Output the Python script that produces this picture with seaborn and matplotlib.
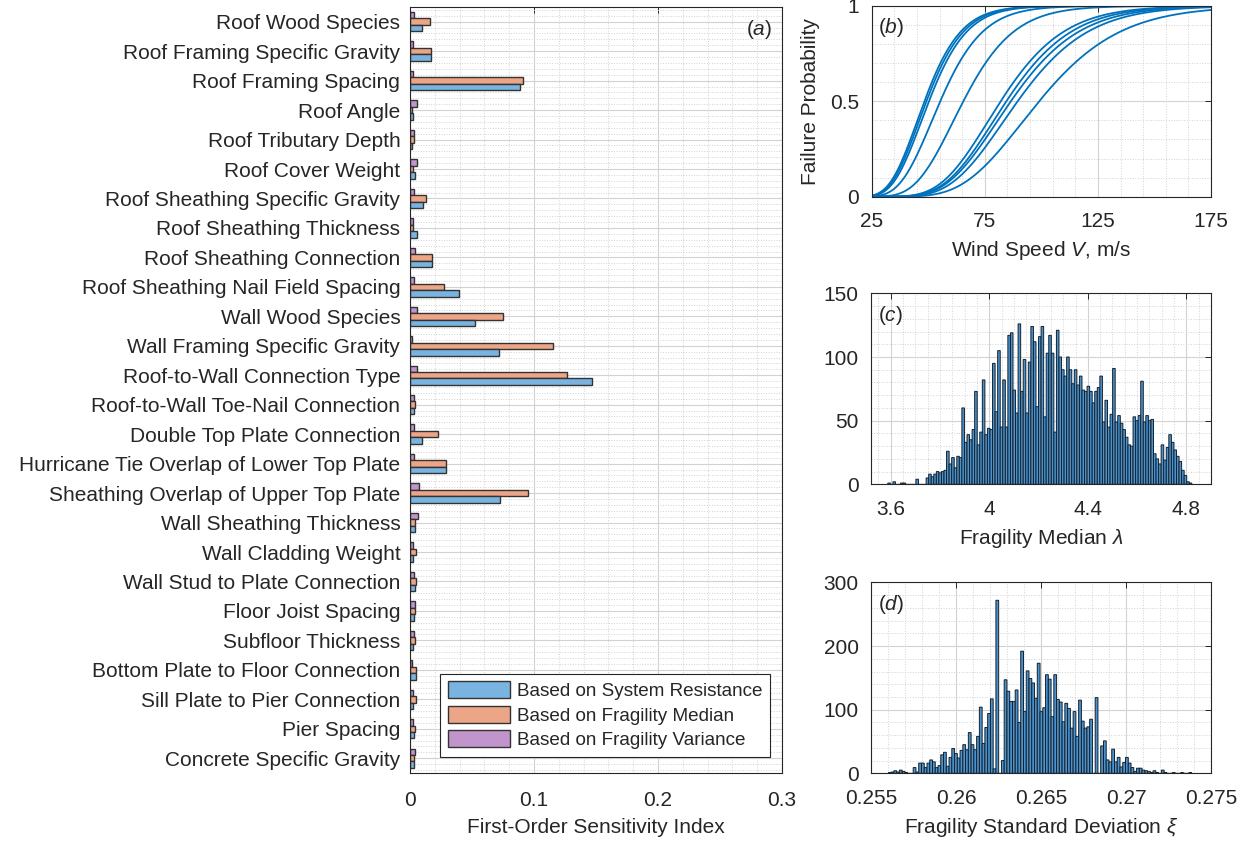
import math
import numpy as np
import pandas as pd
import matplotlib
matplotlib.use('Agg')
import matplotlib.pyplot as plt
from matplotlib.patches import Patch
from matplotlib.ticker import MultipleLocator, FixedLocator, FuncFormatter
import seaborn as sns

# ---- data ----
variables = [
    'Roof Wood Species', 'Roof Framing Specific Gravity', 'Roof Framing Spacing',
    'Roof Angle', 'Roof Tributary Depth', 'Roof Cover Weight',
    'Roof Sheathing Specific Gravity', 'Roof Sheathing Thickness',
    'Roof Sheathing Connection', 'Roof Sheathing Nail Field Spacing',
    'Wall Wood Species', 'Wall Framing Specific Gravity',
    'Roof-to-Wall Connection Type', 'Roof-to-Wall Toe-Nail Connection',
    'Double Top Plate Connection', 'Hurricane Tie Overlap of Lower Top Plate',
    'Sheathing Overlap of Upper Top Plate', 'Wall Sheathing Thickness',
    'Wall Cladding Weight', 'Wall Stud to Plate Connection', 'Floor Joist Spacing',
    'Subfloor Thickness', 'Bottom Plate to Floor Connection',
    'Sill Plate to Pier Connection', 'Pier Spacing', 'Concrete Specific Gravity',
]
si_resistance = [0.0097, 0.0172, 0.0887, 0.0022, 0.0019, 0.0040, 0.0102, 0.0056,
                 0.0180, 0.0398, 0.0524, 0.0715, 0.1465, 0.0030, 0.0094, 0.0290,
                 0.0726, 0.0043, 0.0027, 0.0040, 0.0030, 0.0027, 0.0051, 0.0024,
                 0.0030, 0.0030]
si_median = [0.0160, 0.0167, 0.0914, 0.0019, 0.0035, 0.0022, 0.0129, 0.0027,
             0.0180, 0.0274, 0.0753, 0.1153, 0.1266, 0.0043, 0.0223, 0.0293,
             0.0954, 0.0043, 0.0051, 0.0051, 0.0040, 0.0038, 0.0051, 0.0048,
             0.0040, 0.0032]
si_variance = [0.0035, 0.0027, 0.0027, 0.0059, 0.0035, 0.0054, 0.0035, 0.0022,
               0.0043, 0.0035, 0.0054, 0.0019, 0.0054, 0.0035, 0.0030, 0.0035,
               0.0070, 0.0062, 0.0027, 0.0030, 0.0040, 0.0035, 0.0016, 0.0022,
               0.0027, 0.0043]
series_names = ['Based on System Resistance', 'Based on Fragility Median',
                'Based on Fragility Variance']
series_colors = ['#78B4DF', '#EDA587', '#C194CB']

# fragility curves (lognormal median m/s, dispersion)
curve_medians = [48.3, 49.2, 50.3, 55.3, 65.5, 82.0, 84.5, 86.5, 89.5, 99.0]
curve_betas = [0.26, 0.26, 0.26, 0.265, 0.265, 0.265, 0.265, 0.27, 0.27, 0.28]

median_bin_start = 3.588
median_bin_width = 0.01037
median_counts = [1, 0, 2, 0, 0, 1, 1, 0, 0, 0, 0, 4, 0, 0, 0, 5, 8, 6, 8, 10,
                 9, 10, 11, 26, 16, 21, 13, 22, 21, 60, 33, 39, 35, 43, 73, 31,
                 41, 82, 39, 44, 43, 95, 57, 105, 45, 82, 45, 117, 119, 74, 56,
                 126, 73, 98, 56, 96, 124, 112,
                 61, 116, 124, 53, 103, 117, 103, 41, 121, 100, 90, 85, 100, 90,
                 79, 90, 78, 85, 74, 73, 77, 73, 64, 73, 76, 85, 49, 66, 45, 55,
                 91, 49, 54, 48, 43, 37, 31, 30, 53, 50, 54, 81, 49, 54, 50, 51,
                 24, 20, 16, 31, 19, 29, 39, 33, 27, 22, 18, 11, 7, 2, 1]

std_bin_start = 0.25602
std_bin_width = 0.0001622
std_counts = [1, 2, 4, 2, 5, 3, 1, 0, 0, 9, 2, 16, 16, 9, 16, 21, 18, 9, 12, 29,
              33, 11, 25, 39, 31, 24, 36, 45, 37, 64, 45, 37, 58, 104, 47, 72,
              94, 117, 7, 272,
              0, 20, 147, 129, 113, 113, 131, 80, 192, 97, 161, 149, 142, 118,
              173, 97, 103, 155, 148, 89, 155, 116, 112, 81, 110, 102, 71, 97,
              58, 115, 82, 71, 73, 85, 0, 119, 0, 43, 51, 21, 18, 38, 18, 25,
              10, 17, 25, 16, 9, 3, 8, 8, 5, 4, 3, 1, 4, 1, 0, 5, 1, 0, 0, 1,
              0, 0, 1, 0, 0, 1]

# ---- style ----
sns.set_style('white')
plt.rcParams['font.family'] = ['Liberation Sans', 'DejaVu Sans']
plt.rcParams['mathtext.fontset'] = 'custom'
plt.rcParams['mathtext.rm'] = 'Liberation Sans'
plt.rcParams['mathtext.it'] = 'Liberation Sans:italic'
plt.rcParams['mathtext.bf'] = 'Liberation Sans:bold'
FS = 15
plt.rcParams['font.size'] = FS
DARK = '#262626'
GRID = '#d2d2d2'
HIST_FACE = '#4A93CE'
fmt = FuncFormatter(lambda v, _: f'{v:g}')


def matlab_axes(ax, xpad=11, ypad=9):
    for s in ax.spines.values():
        s.set_color(DARK)
        s.set_linewidth(0.8)
        s.set_visible(True)
    ax.tick_params(which='major', direction='in', top=True, right=True,
                   length=4, width=0.7, color=DARK, labelcolor=DARK, labelsize=FS)
    ax.tick_params(axis='x', which='major', pad=xpad)
    ax.tick_params(axis='y', which='major', pad=ypad)
    ax.tick_params(which='minor', length=0)
    ax.grid(which='major', color=GRID, lw=0.8, ls='-')
    ax.grid(which='minor', color=GRID, lw=0.7, ls=':')
    ax.set_axisbelow(True)


def count_hist(ax, start, width, counts):
    edges = start + width * np.arange(len(counts) + 1)
    df = pd.DataFrame({'x': (edges[:-1] + edges[1:]) / 2, 'w': counts})
    sns.histplot(data=df, x='x', weights='w', bins=list(edges), color=HIST_FACE,
                 edgecolor='#15202b', linewidth=0.7, alpha=1, ax=ax)
    # keep thin bars contiguous instead of pixel-snapped
    for bar in ax.patches:
        bar.set_snap(False)


def panel_label(ax, letter, x, y, ha):
    ax.text(x, y, r'($' + letter + '$)', transform=ax.transAxes, ha=ha,
            va='center', fontsize=FS, color=DARK)


fig = plt.figure(figsize=(12.44, 8.41), dpi=100)

# ---- (a) sensitivity bars ----
ax_a = fig.add_axes([0.3296, 0.0809, 0.2990, 0.9108])
rows = []
for name, vals in zip(series_names, [si_resistance, si_median, si_variance]):
    for var, v in zip(variables, vals):
        rows.append({'variable': var, 'series': name, 'index': v})
df_a = pd.DataFrame(rows)
hue_order = series_names[::-1]
sns.barplot(data=df_a, y='variable', x='index', hue='series', order=variables,
            hue_order=hue_order, palette=dict(zip(series_names, series_colors)),
            orient='h', width=0.66, saturation=1, edgecolor='#333333',
            linewidth=1.0, legend=False, ax=ax_a)
ax_a.set_xlim(0, 0.3)
ax_a.set_ylim(len(variables) - 0.5, -0.5)
ax_a.xaxis.set_major_locator(FixedLocator([0, 0.1, 0.2, 0.3]))
ax_a.xaxis.set_major_formatter(fmt)
ax_a.xaxis.set_minor_locator(MultipleLocator(0.02))
ax_a.yaxis.set_minor_locator(MultipleLocator(0.2))
ax_a.set_ylabel('')
ax_a.set_xlabel('First-Order Sensitivity Index', fontsize=FS, color=DARK, labelpad=6)
matlab_axes(ax_a, xpad=13, ypad=7)
ax_a.tick_params(axis='y', which='major', right=False, left=False)
panel_label(ax_a, 'a', 0.975, 0.971, 'right')
handles = [Patch(facecolor=c, edgecolor='#333333', lw=1.0) for c in series_colors]
leg = ax_a.legend(handles, series_names, loc='lower right',
                  bbox_to_anchor=(1 - 12 / 372, 16 / 766), borderaxespad=0,
                  fontsize=13.6, handlelength=3.3, handleheight=1.0,
                  labelspacing=0.3, handletextpad=0.35, borderpad=0.4,
                  fancybox=False, framealpha=1, edgecolor=DARK)
leg.get_frame().set_linewidth(0.8)

# ---- (b) fragility curves ----
ax_b = fig.add_axes([0.7007, 0.7661, 0.2728, 0.2268])
speeds = np.linspace(25, 175, 301)
erf = np.vectorize(math.erf)
curve_rows = []
for k, (m, b) in enumerate(zip(curve_medians, curve_betas)):
    p = 0.5 * (1 + erf(np.log(speeds / m) / (b * math.sqrt(2))))
    curve_rows.append(pd.DataFrame({'V': speeds, 'P': p, 'curve': k}))
df_b = pd.concat(curve_rows, ignore_index=True)
sns.lineplot(data=df_b, x='V', y='P', units='curve', estimator=None,
             color='#0072BD', lw=1.3, ax=ax_b)
ax_b.set_xlim(25, 175)
ax_b.set_ylim(0, 1)
ax_b.xaxis.set_major_locator(FixedLocator([25, 75, 125, 175]))
ax_b.xaxis.set_minor_locator(MultipleLocator(10, offset=5))
ax_b.yaxis.set_major_locator(FixedLocator([0, 0.5, 1]))
ax_b.yaxis.set_minor_locator(MultipleLocator(0.1))
ax_b.yaxis.set_major_formatter(fmt)
ax_b.set_xlabel(r'Wind Speed $V$, m/s', fontsize=FS, color=DARK, labelpad=6)
ax_b.set_ylabel('Failure Probability', fontsize=FS, color=DARK, labelpad=7)
matlab_axes(ax_b)
panel_label(ax_b, 'b', 0.02, 0.885, 'left')

# ---- (c) histogram of median ----
ax_c = fig.add_axes([0.7002, 0.4241, 0.2733, 0.2271])
count_hist(ax_c, median_bin_start, median_bin_width, median_counts)
ax_c.set_xlim(3.52, 4.9)
ax_c.set_ylim(0, 150)
ax_c.xaxis.set_major_locator(FixedLocator([3.6, 4.0, 4.4, 4.8]))
ax_c.xaxis.set_major_formatter(fmt)
ax_c.xaxis.set_minor_locator(MultipleLocator(0.05))
ax_c.yaxis.set_major_locator(FixedLocator([0, 50, 100, 150]))
ax_c.yaxis.set_minor_locator(MultipleLocator(10))
ax_c.set_ylabel('')
ax_c.set_xlabel(r'Fragility Median $\lambda$', fontsize=FS, color=DARK, labelpad=6)
matlab_axes(ax_c)
panel_label(ax_c, 'c', 0.02, 0.885, 'left')

# ---- (d) histogram of standard deviation ----
ax_d = fig.add_axes([0.7002, 0.0805, 0.2733, 0.2269])
count_hist(ax_d, std_bin_start, std_bin_width, std_counts)
ax_d.set_xlim(0.255, 0.275)
ax_d.set_ylim(0, 300)
ax_d.xaxis.set_major_locator(FixedLocator([0.255, 0.26, 0.265, 0.27, 0.275]))
ax_d.xaxis.set_major_formatter(fmt)
ax_d.xaxis.set_minor_locator(MultipleLocator(0.001))
ax_d.yaxis.set_major_locator(FixedLocator([0, 100, 200, 300]))
ax_d.yaxis.set_minor_locator(MultipleLocator(20))
ax_d.set_ylabel('')
ax_d.set_xlabel(r'Fragility Standard Deviation $\xi$', fontsize=FS, color=DARK,
                labelpad=6)
matlab_axes(ax_d)
panel_label(ax_d, 'd', 0.02, 0.885, 'left')

fig.savefig('out.png', dpi=100)
